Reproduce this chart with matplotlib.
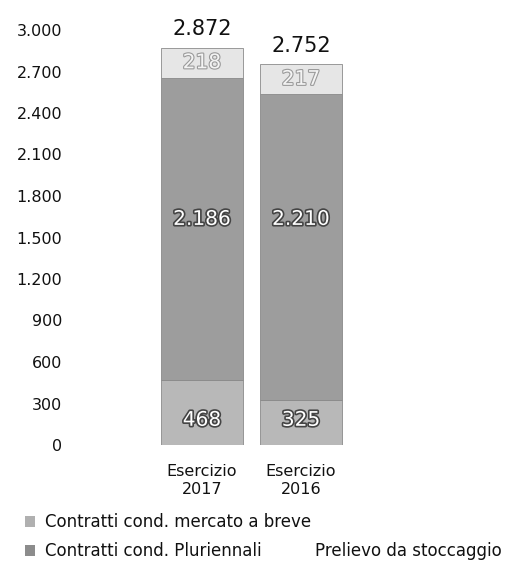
import matplotlib
matplotlib.use("Agg")
import matplotlib.pyplot as plt
import matplotlib.patheffects as pe
from matplotlib.patches import Rectangle
import numpy as np

plt.rcParams['font.family'] = ['DejaVu Sans']

categories = ["Esercizio\n2017", "Esercizio\n2016"]
breve = [468, 325]          # Contratti cond. mercato a breve (bottom)
pluriennali = [2186, 2210]  # Contratti cond. Pluriennali (middle)
stoccaggio = [218, 217]     # Prelievo da stoccaggio (top)
yticks = [0, 300, 600, 900, 1200, 1500, 1800, 2100, 2400, 2700, 3000]
legend_labels = ["Contratti cond. mercato a breve",
                 "Contratti cond. Pluriennali",
                 "Prelievo da stoccaggio"]

def fmt(v):
    return f"{v:,}".replace(",", ".")

W, H = 521, 569
fig = plt.figure(figsize=(W / 100, H / 100), dpi=100)
ax = fig.add_axes([75 / W, 124 / H, 295 / W, 415 / H])

x = np.arange(len(categories))
width = 0.82
c_bottom = "#b8b8b8"
c_mid = "#9d9d9d"
c_top = "#e6e6e6"

ax.bar(x, breve, width, color=c_bottom, edgecolor="#8a8a8a", linewidth=0.6)
ax.bar(x, pluriennali, width, bottom=breve, color=c_mid, edgecolor="#8a8a8a", linewidth=0.6)
bottom3 = np.array(breve) + np.array(pluriennali)
ax.bar(x, stoccaggio, width, bottom=bottom3, color=c_top, edgecolor="#8a8a8a", linewidth=0.6)

totals = bottom3 + np.array(stoccaggio)
mid_y = totals.mean() * 0.58
low_y = min(breve) * 0.55

stroke_dark = [pe.withStroke(linewidth=2.4, foreground="#444444")]
stroke_light = [pe.withStroke(linewidth=1.6, foreground="#9a9a9a")]
for i in range(len(categories)):
    ax.text(x[i], low_y, fmt(breve[i]), ha="center", va="center",
            color="white", fontsize=14.5, path_effects=stroke_dark)
    ax.text(x[i], mid_y, fmt(pluriennali[i]), ha="center", va="center",
            color="white", fontsize=14.5, path_effects=stroke_dark)
    ax.text(x[i], bottom3[i] + stoccaggio[i] / 2, fmt(stoccaggio[i]), ha="center", va="center",
            color="#f4f4f4", fontsize=14.5, path_effects=stroke_light)
    ax.text(x[i], totals[i] + 60, fmt(totals[i]), ha="center", va="bottom",
            color="#111111", fontsize=15)

ax.set_xlim(-1.283, 1.697)
ax.set_ylim(0, 3000)
ax.set_yticks(yticks)
ax.set_yticklabels([fmt(v) for v in yticks], fontsize=11.5, color="#111111")
ax.set_xticks(x)
ax.set_xticklabels(categories, fontsize=11.5, color="#111111", linespacing=1.25)
ax.tick_params(axis="both", length=0)
ax.tick_params(axis="y", pad=9)
ax.tick_params(axis="x", pad=14)
for s in ax.spines.values():
    s.set_visible(False)

# legend (manual)
leg_rows = [(25, 522, legend_labels[0], "#b0b0b0"),
            (25, 551, legend_labels[1], "#8c8c8c")]
for px, py, lab, col in leg_rows:
    fig.patches.append(Rectangle((px / W, (H - py - 5) / H), 10 / W, 11 / H,
                                 transform=fig.transFigure, facecolor=col, edgecolor="none"))
    fig.text((px + 20) / W, (H - py) / H, lab, fontsize=12, va="center", ha="left", color="#111111")
fig.text(315 / W, (H - 551) / H, legend_labels[2], fontsize=12, va="center", ha="left", color="#111111")

fig.savefig("out.png", dpi=100, facecolor="white")
